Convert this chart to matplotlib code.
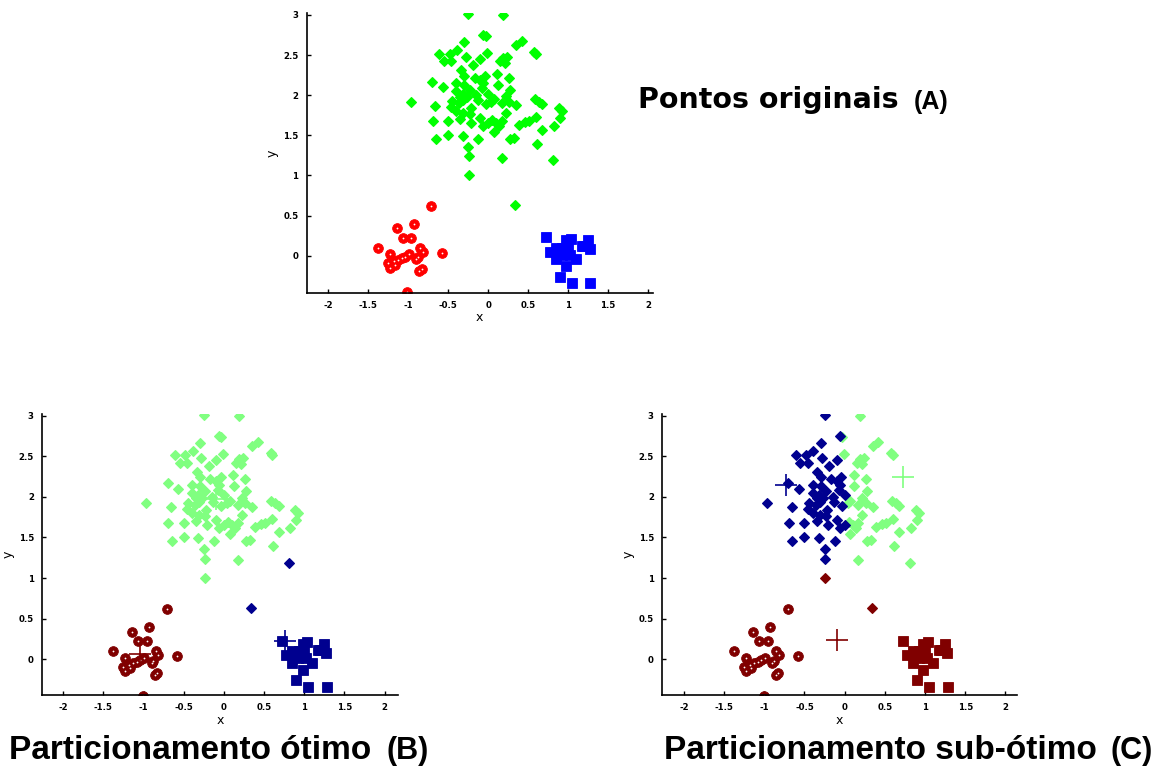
import numpy as np
import matplotlib
matplotlib.use("Agg")
import matplotlib.pyplot as plt

# ---- data ----
diamond_x = [-0.25, 0.19, -0.06, -0.03, -0.30, 0.35, 0.42, -0.61, -0.48, -0.55,
             -0.46, -0.39, -0.28, -0.01, -0.10, 0.19, 0.24, 0.15, 0.21, 0.58,
             0.60, -0.34, -0.30, -0.17, -0.10, -0.04, 0.11, 0.26, -0.70, -0.57,
             -0.40, -0.30, -0.23, -0.07, -0.06, 0.12, 0.28, -0.97, -0.66, -0.45,
             -0.35, -0.31, -0.27, -0.32, -0.22, -0.13, -0.03, 0.04, 0.22, 0.26,
             0.35, 0.59, 0.64, 0.68, 0.89, 0.90, -0.69, -0.50, -0.40, -0.35,
             -0.31, -0.23, -0.21, -0.10, -0.06, 0.00, 0.05, 0.10, 0.17, 0.22,
             0.39, 0.46, 0.51, 0.60, 0.68, 0.82, -0.65, -0.50, -0.32, -0.12,
             0.07, 0.28, 0.33, 0.61, -0.25, -0.24, 0.17, 0.81, -0.24, 0.34,
             -0.19, -0.40, -0.15, 0.00, 0.07, 0.17, -0.46, 0.14, 0.92, -0.36]
diamond_y = [3.01, 3.00, 2.75, 2.74, 2.66, 2.63, 2.68, 2.51, 2.51, 2.42,
             2.42, 2.56, 2.48, 2.53, 2.45, 2.46, 2.48, 2.42, 2.40, 2.54,
             2.51, 2.31, 2.24, 2.22, 2.19, 2.24, 2.27, 2.22, 2.17, 2.10,
             2.15, 2.13, 2.07, 2.09, 2.15, 2.13, 2.07, 1.92, 1.87, 1.93,
             1.98, 1.94, 1.98, 2.02, 1.84, 1.94, 1.89, 1.92, 1.99, 1.92,
             1.88, 1.95, 1.92, 1.89, 1.84, 1.71, 1.68, 1.68, 1.80, 1.70,
             1.78, 1.76, 1.65, 1.71, 1.62, 1.65, 1.69, 1.65, 1.68, 1.78,
             1.63, 1.66, 1.68, 1.73, 1.57, 1.62, 1.45, 1.51, 1.49, 1.46,
             1.54, 1.45, 1.47, 1.39, 1.36, 1.24, 1.22, 1.19, 1.00, 0.63,
             2.38, 2.05, 2.00, 2.02, 1.95, 1.90, 1.85, 1.62, 1.80, 1.90]

circle_x = [-0.71, -0.93, -1.14, -1.07, -0.96, -1.38, -0.85, -0.58, -1.23, -0.99,
            -1.04, -1.08, -1.13, -1.18, -1.25, -1.23, -1.17, -0.88, -0.82, -0.83,
            -0.86, -1.01, -0.90]
circle_y = [0.62, 0.40, 0.34, 0.22, 0.22, 0.10, 0.10, 0.04, 0.02, 0.02,
            -0.01, -0.03, -0.05, -0.07, -0.09, -0.15, -0.11, -0.02, 0.05, -0.17,
            -0.19, -0.45, -0.04]

square_x = [0.72, 0.85, 0.77, 0.93, 0.98, 1.04, 0.97, 1.02, 0.92, 0.85,
            1.10, 0.98, 1.25, 1.17, 1.27, 1.20, 0.90, 1.05, 1.28, 0.89, 1.00]
square_y = [0.23, 0.10, 0.05, 0.10, 0.19, 0.21, 0.04, 0.01, 0.01, -0.04,
            -0.04, -0.13, 0.19, 0.12, 0.08, 0.12, -0.26, -0.34, -0.34, 0.03, 0.12]

# centroids (cluster order: light green, dark blue, dark red)
centroids_B_x = [-0.10, 0.76, -1.05]
centroids_B_y = [1.97, 0.22, 0.06]
centroids_C_x = [0.73, -0.73, -0.09]
centroids_C_y = [2.24, 2.15, 0.24]

# diamond indices whose cluster in panel C differs from the nearest-centroid rule
override_C_index = [85, 86]
override_C_cluster = [1, 0]

xticks = [-2, -1.5, -1, -0.5, 0, 0.5, 1, 1.5, 2]
xticklabels = ["-2", "-1.5", "-1", "-0.5", "0", "0.5", "1", "1.5", "2"]
yticks = [0, 0.5, 1, 1.5, 2, 2.5, 3]
yticklabels = ["0", "0.5", "1", "1.5", "2", "2.5", "3"]

title_A = "Pontos originais"
title_B = "Particionamento ótimo"
title_C = "Particionamento sub-ótimo"
tag_A, tag_B, tag_C = "(A)", "(B)", "(C)"

cluster_colors = ["#80FF80", "#00008F", "#800000"]

# ---- drawing ----
fig = plt.figure(figsize=(11.68, 7.68), dpi=100)

def style_axes(ax, xlim, ylim):
    ax.set_xlim(*xlim)
    ax.set_ylim(*ylim)
    for s in ("top", "right"):
        ax.spines[s].set_visible(False)
    for s in ("left", "bottom"):
        ax.spines[s].set_linewidth(1.2)
    ax.set_xticks(xticks)
    ax.set_xticklabels(xticklabels)
    ax.set_yticks(yticks)
    ax.set_yticklabels(yticklabels)
    ax.tick_params(direction="in", length=3, width=1, labelsize=6.2, pad=6)
    for lab in ax.get_xticklabels() + ax.get_yticklabels():
        lab.set_fontweight("bold")
    ax.set_xlabel("x", fontsize=9, labelpad=1)
    ax.set_ylabel("y", fontsize=9, labelpad=3)
    ax.patch.set_alpha(0)

dx, dy = np.array(diamond_x), np.array(diamond_y)
cx, cy = np.array(circle_x), np.array(circle_y)
sx, sy = np.array(square_x), np.array(square_y)

dkw = dict(marker="D", markersize=5.3, linestyle="none", markeredgewidth=0.8)
ckw = dict(marker="o", markersize=7, linestyle="none", markeredgewidth=0.6)
skw = dict(marker="s", markersize=6.5, linestyle="none", markeredgewidth=0.6)
wkw = dict(linestyle="none", marker="o", markersize=1.3, markeredgewidth=0,
           color="white")

# Panel A
axA = fig.add_axes([0.2626, 0.6189, 0.2962, 0.3638])
axA.plot(dx, dy, color="#00FF00", mec="#00FF00", **dkw)
axA.plot(cx, cy, color="#FF0000", mec="#FF0000", **ckw)
axA.plot(cx, cy, **wkw)
axA.plot(sx, sy, color="#0000FF", mec="#0000FF", **skw)
style_axes(axA, (-2.27, 2.06), (-0.46, 3.02))

def nearest(xs, ys, cxs, cys):
    cxs, cys = np.array(cxs), np.array(cys)
    d = (xs[:, None] - cxs[None, :]) ** 2 + (ys[:, None] - cys[None, :]) ** 2
    return np.argmin(d, axis=1)

def clustered_panel(rect, cenx, ceny, xlim, d_override=None):
    ax = fig.add_axes(rect)
    groups = (("d", dx, dy, dkw, False), ("c", cx, cy, ckw, True), ("s", sx, sy, skw, False))
    for name, xs, ys, kw, white in groups:
        lab = nearest(xs, ys, cenx, ceny)
        if name == "d" and d_override is not None:
            for i, k in zip(*d_override):
                lab[i] = k
        for k, col in enumerate(cluster_colors):
            m = lab == k
            if m.any():
                ax.plot(xs[m], ys[m], color=col, mec=col, **kw)
                if white:
                    ax.plot(xs[m], ys[m], **wkw)
    for k, col in enumerate(cluster_colors):
        ax.plot(cenx[k], ceny[k], marker="+", markersize=16, markeredgewidth=1.2,
                color=col, linestyle="none")
    style_axes(ax, xlim, (-0.44, 3.02))
    return ax

axB = clustered_panel([0.0362, 0.095, 0.3048, 0.366], centroids_B_x, centroids_B_y, (-2.26, 2.17))
axC = clustered_panel([0.567, 0.095, 0.3034, 0.366], centroids_C_x, centroids_C_y, (-2.27, 2.14),
                      d_override=(override_C_index, override_C_cluster))

# Titles
H = 768.0
W = 1168.0
fig.text(638 / W, 1 - 108.5 / H, title_A, fontsize=20.5, fontweight="bold",
         family="DejaVu Sans", va="baseline", ha="left")
fig.text(914 / W, 1 - 108.5 / H, tag_A, fontsize=18, fontweight="bold",
         family="Liberation Sans", va="baseline", ha="left")
fig.text(9 / W, 1 - 759 / H, title_B, fontsize=24, fontweight="bold",
         family="Liberation Sans", va="baseline", ha="left")
fig.text(386 / W, 1 - 759 / H, tag_B, fontsize=22, fontweight="bold",
         family="Liberation Sans", va="baseline", ha="left")
fig.text(664 / W, 1 - 759 / H, title_C, fontsize=24, fontweight="bold",
         family="Liberation Sans", va="baseline", ha="left")
fig.text(1110 / W, 1 - 759 / H, tag_C, fontsize=22, fontweight="bold",
         family="Liberation Sans", va="baseline", ha="left")

fig.savefig("out.png", dpi=100)
